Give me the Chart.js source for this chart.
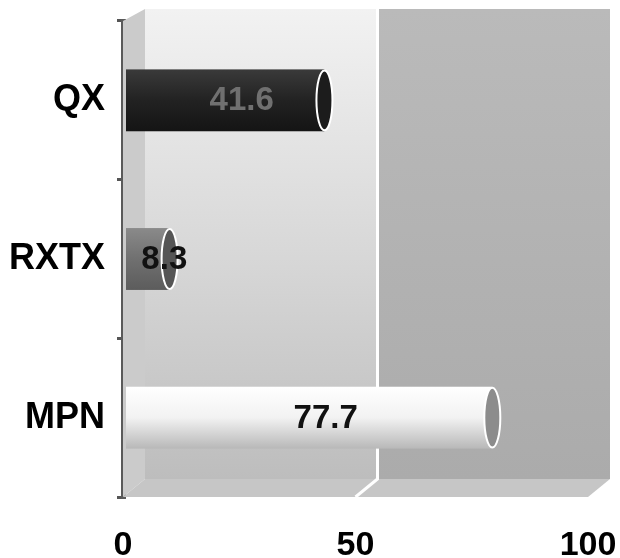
<!DOCTYPE html>
<html>
<head>
<meta charset="utf-8">
<script src="https://cdn.jsdelivr.net/npm/chart.js@4.4.1/dist/chart.umd.min.js"></script>
<style>
  html, body { margin: 0; padding: 0; background: #fff; }
  #chart { display: block; }
</style>
</head>
<body>
<canvas id="chart" width="620" height="558"></canvas>
<script>
const categories = ['QX', 'RXTX', 'MPN'];
const values = [41.6, 8.3, 77.7];
const xTicks = [0, 50, 100];

const FONT = '"Liberation Sans", Arial, sans-serif';
const DEPTH_X = 22;

// body / cap colours of each cylinder
const barStyles = [
  { top: '#3a3a3a', mid: '#222222', bot: '#141414', cap: '#1c1c1c', text: '#707070' },
  { top: '#8a8a8a', mid: '#707070', bot: '#5c5c5c', cap: '#555555', text: '#111111' },
  { top: '#ffffff', mid: '#f2f2f2', bot: '#b8b8b8', cap: '#8c8c8c', text: '#111111' }
];

// ---- 3D walls behind the bars ----
const wallsPlugin = {
  id: 'walls',
  beforeDatasetsDraw(chart) {
    const ctx = chart.ctx;
    const ca = chart.chartArea;
    const xs = chart.scales.x;
    const backTop = ca.top - 12, backBot = ca.bottom - 18;
    const x50 = xs.getPixelForValue(50);
    ctx.save();

    // back wall, left part lighter
    let g = ctx.createLinearGradient(0, backTop, 0, backBot);
    g.addColorStop(0, '#f2f2f2');
    g.addColorStop(0.55, '#d6d6d6');
    g.addColorStop(1, '#bdbdbd');
    ctx.fillStyle = g;
    ctx.fillRect(ca.left + DEPTH_X, backTop, x50 - ca.left, backBot - backTop);
    // back wall, right part darker
    g = ctx.createLinearGradient(0, backTop, 0, backBot);
    g.addColorStop(0, '#bababa');
    g.addColorStop(1, '#ababab');
    ctx.fillStyle = g;
    ctx.fillRect(x50 + DEPTH_X, backTop, ca.right - x50, backBot - backTop);

    // side wall
    ctx.fillStyle = '#cbcbcb';
    ctx.beginPath();
    ctx.moveTo(ca.left, ca.top);
    ctx.lineTo(ca.left + DEPTH_X, backTop);
    ctx.lineTo(ca.left + DEPTH_X, backBot);
    ctx.lineTo(ca.left, ca.bottom);
    ctx.closePath();
    ctx.fill();

    // floor
    ctx.fillStyle = '#c6c6c6';
    ctx.beginPath();
    ctx.moveTo(ca.left, ca.bottom);
    ctx.lineTo(ca.left + DEPTH_X, backBot);
    ctx.lineTo(ca.right + DEPTH_X, backBot);
    ctx.lineTo(ca.right, ca.bottom);
    ctx.closePath();
    ctx.fill();

    // gridline at 50
    ctx.strokeStyle = '#ffffff';
    ctx.lineWidth = 3;
    ctx.beginPath();
    ctx.moveTo(x50 + DEPTH_X, backTop);
    ctx.lineTo(x50 + DEPTH_X, backBot);
    ctx.lineTo(x50, ca.bottom);
    ctx.stroke();
    ctx.restore();
  }
};

// ---- cylinders and value labels ----
const cylinderPlugin = {
  id: 'cylinders',
  afterDatasetsDraw(chart) {
    const ctx = chart.ctx;
    const meta = chart.getDatasetMeta(0);
    ctx.save();
    meta.data.forEach((bar, i) => {
      const p = bar.getProps(['x', 'y', 'base', 'height'], true);
      const s = barStyles[i];
      const h = p.height, top = p.y - h / 2;
      const end = p.x + 8, rx = 8;

      const g = ctx.createLinearGradient(0, top, 0, top + h);
      g.addColorStop(0, s.top);
      g.addColorStop(0.5, s.mid);
      g.addColorStop(1, s.bot);
      ctx.fillStyle = g;
      ctx.fillRect(p.base + 3, top, end - p.base - 3, h);

      // end cap
      ctx.fillStyle = s.cap;
      ctx.strokeStyle = '#ffffff';
      ctx.lineWidth = 2;
      ctx.beginPath();
      ctx.ellipse(end, p.y, rx, h / 2 - 1, 0, 0, Math.PI * 2);
      ctx.fill();
      ctx.stroke();

      // value label
      ctx.fillStyle = s.text;
      ctx.font = 'bold 33px ' + FONT;
      ctx.textAlign = 'center';
      ctx.textBaseline = 'middle';
      ctx.fillText(String(values[i]), (p.base + p.x) / 2 + DEPTH_X, p.y + 1);
    });
    ctx.restore();
  }
};

new Chart(document.getElementById('chart'), {
  type: 'bar',
  data: {
    labels: categories,
    datasets: [{
      data: values,
      backgroundColor: 'rgba(0,0,0,0)',
      barPercentage: 0.39,
      categoryPercentage: 1
    }]
  },
  options: {
    indexAxis: 'y',
    responsive: false,
    animation: false,
    devicePixelRatio: 1,
    layout: { padding: { top: 21, right: 0 } },
    plugins: {
      legend: { display: false },
      tooltip: { enabled: false }
    },
    scales: {
      x: {
        min: xTicks[0],
        max: xTicks[xTicks.length - 1],
        afterBuildTicks(scale) { scale.ticks = xTicks.map(v => ({ value: v })); },
        grid: { display: false },
        border: { display: false },
        ticks: {
          color: '#000',
          font: { family: FONT, size: 34, weight: 'bold' },
          padding: 20
        },
        afterFit(scale) {
          scale.height = 61;
          scale.paddingLeft = 0;
          scale.paddingRight = 32;
        }
      },
      y: {
        grid: { drawOnChartArea: false, tickLength: 6, color: '#555', lineWidth: 3 },
        border: { color: '#5a5a5a', width: 5 },
        ticks: {
          color: '#000',
          font: { family: FONT, size: 36, weight: 'bold' },
          padding: 12
        },
        afterFit(scale) {
          scale.width = 123;
          scale.paddingTop = 0;
          scale.paddingBottom = 0;
        }
      }
    }
  },
  plugins: [wallsPlugin, cylinderPlugin]
});
</script>
</body>
</html>
